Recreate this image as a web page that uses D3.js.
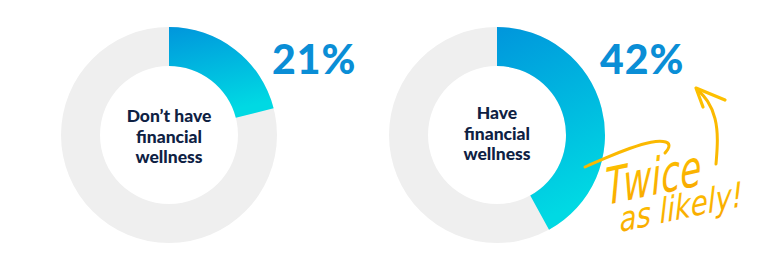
<!DOCTYPE html>
<html><head><meta charset="utf-8">
<script src="https://cdn.jsdelivr.net/npm/d3@7"></script>
<style>html,body{margin:0;padding:0;background:#fff;}svg{display:block;}</style>
</head><body>
<svg id="chart" width="774" height="261"></svg>
<script>
const categories = [["Don\u2019t have","financial","wellness"],["Have","financial","wellness"]];
const values = [21, 42];
const valueLabels = ["21%", "42%"];
const annotation = ["Twice", "as likely!"];

const svg = d3.select("#chart");
const defs = svg.append("defs");

const xScale = d3.scaleLinear().domain([0, 1]).range([169, 497]);
const angle = d3.scaleLinear().domain([0, 100]).range([0, 2 * Math.PI]);
const outerR = 108, innerR = 69;
const arc = d3.arc().innerRadius(innerR).outerRadius(outerR);

values.forEach((v, i) => {
  const cx = xScale(i), cy = 135;
  const g = svg.append("g").attr("transform", `translate(${cx},${cy})`);
  const gid = "grad" + i;
  const grad = defs.append("linearGradient").attr("id", gid)
    .attr("x1", 0).attr("y1", 0).attr("x2", 0.25).attr("y2", 1);
  grad.append("stop").attr("offset", "0%").attr("stop-color", "#0096dc");
  grad.append("stop").attr("offset", "100%").attr("stop-color", "#00d9e3");

  g.append("path").attr("d", arc({startAngle: 0, endAngle: 2 * Math.PI})).attr("fill", "#efefef");
  g.append("path").attr("d", arc({startAngle: 0, endAngle: angle(v)})).attr("fill", `url(#${gid})`);

  const lines = categories[i];
  const t = g.append("text").attr("text-anchor", "middle")
    .attr("font-family", "Lato, 'Open Sans', sans-serif").attr("font-weight", 900)
    .attr("font-size", 17.5).attr("fill", "#0e2143");
  lines.forEach((l, j) => {
    t.append("tspan").attr("x", 0).attr("y", -13 + j * 20.5 + (i === 1 ? -3 : 0)).text(l);
  });

  svg.append("text").attr("x", cx + 103).attr("y", 74)
    .attr("font-family", "Lato, 'Open Sans', sans-serif").attr("font-weight", 900)
    .attr("font-size", 41).attr("letter-spacing", 1).attr("fill", "#0a8ed6").text(valueLabels[i]);
});

// Annotation
const yellow = defs.append("linearGradient").attr("id", "yel").attr("x1", 0).attr("y1", 0).attr("x2", 0).attr("y2", 1);
yellow.append("stop").attr("offset", "0%").attr("stop-color", "#fdc300");
yellow.append("stop").attr("offset", "100%").attr("stop-color", "#f8a600");

const line = d3.line().curve(d3.curveBasis);
svg.append("path")
  .attr("d", line([[585,167],[605,158],[630,148],[652,141],[668,141],[670,147],[665,153]]))
  .attr("fill", "none").attr("stroke", "#fbb900").attr("stroke-width", 3).attr("stroke-linecap", "round");
svg.append("path")
  .attr("d", line([[716,164],[718,140],[716,118],[708,100],[697,89]]))
  .attr("fill", "none").attr("stroke", "#fbb900").attr("stroke-width", 3).attr("stroke-linecap", "round");
svg.append("path")
  .attr("d", "M703,107 L696,88 L725,100")
  .attr("fill", "none").attr("stroke", "#fdc000").attr("stroke-width", 3.2).attr("stroke-linecap", "round").attr("stroke-linejoin", "round");

const ann = svg.append("g").attr("font-family", "'DejaVu Sans Condensed', 'Liberation Sans Narrow', sans-serif")
  .attr("font-style", "italic").attr("fill", "url(#yel)");
ann.append("text").attr("transform", "translate(606,205) rotate(-12) skewX(-10)")
  .attr("font-size", 50).attr("font-weight", 400).attr("textLength", 98).attr("lengthAdjust", "spacingAndGlyphs")
  .text(annotation[0]);
ann.append("text").attr("transform", "translate(620,232) rotate(-12) skewX(-10)")
  .attr("font-size", 34).attr("font-weight", 400).attr("textLength", 126).attr("lengthAdjust", "spacingAndGlyphs")
  .text(annotation[1]);
</script>
</body></html>
